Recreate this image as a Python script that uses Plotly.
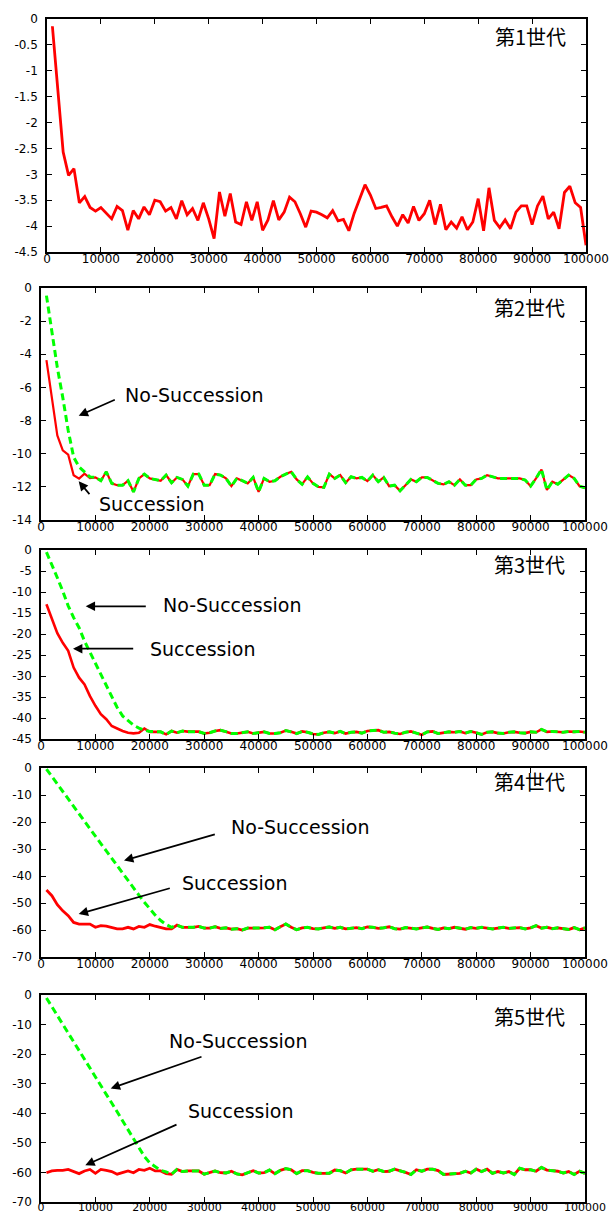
import plotly.graph_objects as go

# ---------------- data ----------------
x_values = list(range(1000, 100001, 1000))

gen1_succession = [
    -0.14, -1.35, -2.57, -3.02, -2.89, -3.55, -3.43, -3.64, -3.71, -3.64,
    -3.76, -3.86, -3.62, -3.70, -4.08, -3.70, -3.86, -3.63, -3.78, -3.50,
    -3.53, -3.71, -3.64, -3.86, -3.51, -3.78, -3.66, -3.89, -3.55, -3.86,
    -4.24, -3.34, -3.81, -3.37, -3.92, -3.97, -3.53, -3.89, -3.53, -4.08,
    -3.88, -3.51, -3.88, -3.73, -3.44, -3.53, -3.76, -4.02, -3.71, -3.73,
    -3.78, -3.84, -3.70, -3.90, -3.87, -4.09, -3.75, -3.48, -3.20, -3.40,
    -3.66, -3.64, -3.61, -3.82, -4.00, -3.78, -3.94, -3.62, -3.89, -3.76,
    -3.50, -3.97, -3.58, -4.07, -3.92, -4.04, -3.82, -4.07, -3.92, -3.47,
    -4.09, -3.26, -3.89, -4.03, -3.88, -4.05, -3.73, -3.61, -3.61, -3.97,
    -3.61, -3.42, -3.86, -3.73, -4.05, -3.35, -3.23, -3.55, -3.64, -4.37,
]

gen2_succession = [
    -4.35, -6.70, -8.90, -9.80, -10.06, -11.30, -11.50, -11.20, -11.47, -11.43,
    -11.63, -11.09, -11.79, -11.90, -11.90, -11.63, -12.30, -11.49, -11.23, -11.49,
    -11.55, -11.63, -11.29, -11.75, -11.43, -11.55, -11.96, -11.23, -11.23, -11.90,
    -11.90, -11.23, -11.29, -11.49, -11.96, -11.49, -11.63, -11.79, -11.43, -12.30,
    -11.49, -11.69, -11.63, -11.39, -11.23, -11.09, -11.55, -11.84, -11.40, -11.79,
    -12.00, -12.03, -11.23, -11.49, -11.29, -11.75, -11.39, -11.49, -11.43, -11.65,
    -11.29, -11.69, -11.43, -11.96, -11.90, -12.24, -11.90, -11.55, -11.69, -11.43,
    -11.43, -11.59, -11.79, -11.85, -11.69, -11.90, -11.55, -11.90, -11.90, -11.55,
    -11.49, -11.29, -11.39, -11.49, -11.49, -11.49, -11.49, -11.49, -11.59, -11.96,
    -11.49, -10.95, -12.19, -11.69, -11.84, -11.55, -11.29, -11.49, -11.96, -12.06,
]
gen2_no_succession_start = [-0.46, -2.6, -4.8, -6.6, -8.6, -10.2, -10.8, -11.1, -11.4]

gen3_succession = [
    -12.9, -16.5, -19.8, -22.1, -24.0, -28.0, -30.4, -32.0, -34.8, -37.1,
    -39.1, -40.3, -41.9, -42.5, -43.1, -43.5, -43.65, -43.5, -42.5, -43.3,
    -43.25, -43.3, -43.9, -43.1, -43.5, -43.1, -43.25, -43.3, -43.25, -43.7,
    -43.5, -43.1, -42.9, -43.25, -43.7, -43.7, -43.5, -43.3, -43.7, -43.5,
    -43.3, -43.7, -43.7, -43.5, -43.0, -43.3, -43.7, -43.2, -43.4, -43.8,
    -43.9, -43.5, -43.3, -43.6, -43.2, -43.7, -43.4, -43.3, -43.6, -43.1,
    -43.0, -42.9, -43.4, -43.3, -43.6, -43.8, -43.4, -43.2, -43.6, -44.0,
    -43.3, -43.2, -43.7, -43.5, -43.3, -43.4, -43.2, -43.6, -43.2, -43.5,
    -43.9, -43.4, -43.3, -43.6, -43.7, -43.4, -43.3, -43.5, -43.6, -43.3,
    -43.4, -42.7, -43.3, -43.2, -43.3, -43.4, -43.2, -43.3, -43.2, -43.4,
]
gen3_no_succession_start = [
    -0.5, -3.4, -6.6, -9.8, -13.3, -16.1, -18.5, -21.7, -24.4, -26.8,
    -29.6, -32.4, -35.2, -37.5, -39.5, -40.7, -41.7, -42.4, -42.9, -43.2,
]

gen4_succession = [
    -45.2, -47.3, -50.6, -52.9, -54.7, -57.2, -57.8, -57.8, -57.8, -59.0,
    -58.4, -58.6, -59.0, -59.6, -59.6, -59.0, -59.6, -58.7, -59.0, -58.0,
    -58.6, -59.0, -59.6, -59.6, -58.2, -59.0, -59.0, -59.0, -58.7, -59.3,
    -59.3, -58.8, -59.4, -59.2, -59.7, -59.5, -60.0, -59.3, -59.3, -59.3,
    -59.2, -59.0, -59.9, -58.8, -57.8, -59.0, -59.9, -59.2, -59.0, -59.5,
    -59.6, -59.2, -58.9, -59.4, -59.0, -59.6, -59.3, -59.1, -59.5, -58.9,
    -59.0, -59.4, -59.2, -58.8, -59.5, -59.7, -59.1, -59.3, -59.6, -59.2,
    -58.9, -59.4, -59.8, -59.2, -59.5, -59.0, -59.3, -59.7, -59.1, -59.4,
    -59.0, -59.2, -59.6, -59.3, -59.0, -59.4, -59.3, -59.1, -59.6, -59.2,
    -58.4, -59.3, -59.0, -59.5, -59.2, -59.4, -59.8, -59.1, -59.9, -59.2,
]
gen4_no_succession_start = [
    -0.4, -3.2, -6.0, -8.7, -11.5, -14.2, -17.0, -19.7, -22.5, -25.2,
    -28.0, -30.7, -33.5, -36.2, -39.0, -41.7, -44.4, -47.1, -49.7, -52.2,
    -54.5, -56.5, -58.0, -59.0,
]

gen5_succession = [
    -60.1, -59.5, -59.3, -59.3, -59.0, -59.7, -60.4, -59.5, -59.0, -60.3,
    -59.0, -59.3, -59.7, -60.6, -60.1, -59.5, -60.1, -59.0, -59.3, -58.6,
    -59.5, -59.5, -60.4, -60.6, -59.0, -59.7, -59.5, -59.5, -59.5, -60.6,
    -60.1, -59.5, -60.1, -60.2, -59.6, -60.5, -60.8, -60.0, -59.4, -60.2,
    -60.1, -59.2, -60.4, -59.3, -58.7, -59.1, -60.4, -59.4, -59.4, -60.0,
    -60.3, -60.3, -60.3, -59.2, -59.4, -60.2, -59.1, -58.9, -58.9, -58.9,
    -59.6, -59.1, -59.7, -59.6, -58.9, -59.4, -60.0, -60.7, -59.1, -59.6,
    -58.9, -58.9, -59.4, -60.7, -60.5, -60.3, -60.3, -59.6, -60.2, -58.9,
    -59.7, -58.9, -60.3, -59.7, -60.2, -59.7, -60.7, -58.6, -59.1, -59.1,
    -59.6, -58.3, -59.2, -59.4, -59.6, -60.2, -59.7, -60.7, -59.6, -60.3,
]
gen5_no_succession_start = [
    -1.0, -4.0, -6.9, -9.8, -12.8, -15.7, -18.7, -21.7, -24.6, -27.6,
    -30.6, -33.6, -36.5, -39.5, -42.5, -45.4, -48.4, -51.8, -54.6, -56.8,
    -58.2, -59.3, -59.8,
]

panel_titles = ["第1世代", "第2世代", "第3世代", "第4世代", "第5世代"]
label_no = "No-Succession"
label_yes = "Succession"

x_tickvals = [0, 10000, 20000, 30000, 40000, 50000, 60000, 70000, 80000, 90000, 100000]
x_ticktext = ["0", "10000", "20000", "30000", "40000", "50000", "60000",
              "70000", "80000", "90000", "100000"]

y1_tickvals = [0, -0.5, -1, -1.5, -2, -2.5, -3, -3.5, -4, -4.5]
y1_ticktext = ["0", "-0.5", "-1", "-1.5", "-2", "-2.5", "-3", "-3.5", "-4", "-4.5"]
y2_tickvals = [0, -2, -4, -6, -8, -10, -12, -14]
y2_ticktext = ["0", "-2", "-4", "-6", "-8", "-10", "-12", "-14"]
y3_tickvals = [0, -5, -10, -15, -20, -25, -30, -35, -40, -45]
y3_ticktext = ["0", "-5", "-10", "-15", "-20", "-25", "-30", "-35", "-40", "-45"]
y45_tickvals = [0, -10, -20, -30, -40, -50, -60, -70]
y45_ticktext = ["0", "-10", "-20", "-30", "-40", "-50", "-60", "-70"]

# ---------------- figure ----------------
W, H = 610, 1216
RED = "#ff0000"
GREEN = "#00ff00"

# panel pixel boxes: (left, right, top, bottom)
boxes = [
    (47, 586, 19, 252),
    (41, 585, 288, 520),
    (41, 585, 550, 739),
    (41, 585, 768, 957),
    (41, 585, 995, 1202),
]
x_label_standoff = [-5, -5, -5, -5, -6]
x_label_size = [12, 12, 12, 12, 11]
y_ranges = [(-4.5, 0), (-14, 0), (-45, 0), (-70, 0), (-70, 0)]
y_ticks = [
    (y1_tickvals, y1_ticktext),
    (y2_tickvals, y2_ticktext),
    (y3_tickvals, y3_ticktext),
    (y45_tickvals, y45_ticktext),
    (y45_tickvals, y45_ticktext),
]

succ_series = [gen1_succession, gen2_succession, gen3_succession,
               gen4_succession, gen5_succession]
nosucc_starts = [None, gen2_no_succession_start, gen3_no_succession_start,
                 gen4_no_succession_start, gen5_no_succession_start]
red_widths = [2.8, 2.2, 2.6, 2.8, 2.8]

fig = go.Figure()
layout = dict(
    template="none",
    width=W, height=H, autosize=False,
    margin=dict(l=0, r=0, t=0, b=0, pad=0),
    paper_bgcolor="white", plot_bgcolor="white",
    showlegend=False,
    font=dict(family="DejaVu Sans", size=12, color="black"),
)

for i in range(5):
    n = i + 1
    xa = "x" if n == 1 else f"x{n}"
    ya = "y" if n == 1 else f"y{n}"
    l, r, t, b = boxes[i]
    common = dict(
        showline=True, linecolor="black", linewidth=1.6, mirror="allticks",
        ticks="inside", ticklen=5, tickwidth=1.2, tickcolor="black",
        showgrid=False, zeroline=False, automargin=False,
    )
    layout["xaxis" if n == 1 else f"xaxis{n}"] = dict(
        domain=[l / W, r / W], anchor=ya, range=[0, 100000],
        tickmode="array", tickvals=x_tickvals, ticktext=x_ticktext,
        ticklabelstandoff=x_label_standoff[i],
        tickfont=dict(family="DejaVu Sans", size=x_label_size[i], color="black"),
        **common,
    )
    tv, tt = y_ticks[i]
    layout["yaxis" if n == 1 else f"yaxis{n}"] = dict(
        domain=[1 - b / H, 1 - t / H], anchor=xa, range=list(y_ranges[i]),
        tickmode="array", tickvals=tv, ticktext=tt,
        ticklabelstandoff=5,
        tickfont=dict(family="DejaVu Sans", size=12, color="black"),
        **common,
    )

    fig.add_trace(go.Scatter(
        x=x_values, y=succ_series[i], xaxis=xa, yaxis=ya, mode="lines",
        line=dict(color=RED, width=red_widths[i]), hoverinfo="skip",
    ))
    if nosucc_starts[i] is not None:
        start = nosucc_starts[i]
        green = start + succ_series[i][len(start):]
        fig.add_trace(go.Scatter(
            x=x_values, y=green, xaxis=xa, yaxis=ya, mode="lines",
            line=dict(color=GREEN, width=3, dash="7px,4px"), hoverinfo="skip",
        ))

fig.update_layout(**layout)

annotations = []
title_y = [0.923, 0.918, 0.921, 0.926, 0.896]
for i in range(5):
    n = i + 1
    xd = "x domain" if n == 1 else f"x{n} domain"
    yd = "y domain" if n == 1 else f"y{n} domain"
    annotations.append(dict(
        text=panel_titles[i], xref=xd, yref=yd, x=0.967, y=title_y[i],
        xanchor="right", yanchor="middle", showarrow=False,
        font=dict(family="Noto Sans CJK JP", size=20, color="black"),
    ))

label_font = dict(family="DejaVu Sans", size=19, color="black")
# (panel, text, text_x, text_y, head_x, head_y, tail_x, tail_y)
arrow_specs = [
    (2, label_no, 15074, -6.46, 6930, -7.71, 13842, -6.70),
    (2, label_yes, 10294, -13.03, 6930, -11.66, 9136, -12.53),
    (3, label_no, 22000, -13.1, 8217, -13.4, 19540, -13.4),
    (3, label_yes, 19669, -23.6, 5882, -23.5, 17224, -23.5),
    (4, label_no, 34559, -21.9, 15257, -34.3, 32224, -24.4),
    (4, label_yes, 25496, -42.7, 6930, -54.1, 23952, -44.4),
    (5, label_no, 23217, -15.5, 12813, -31.6, 29779, -20.7),
    (5, label_yes, 26599, -39.2, 8143, -57.6, 25184, -43.6),
]
for (n, txt, tx, ty, hx, hy, sx, sy) in arrow_specs:
    xa = f"x{n}"
    ya = f"y{n}"
    annotations.append(dict(
        text=txt, xref=xa, yref=ya, x=tx, y=ty, xanchor="left",
        yanchor="middle", showarrow=False, font=label_font,
    ))
    annotations.append(dict(
        text="", xref=xa, yref=ya, x=hx, y=hy, axref=xa, ayref=ya,
        ax=sx, ay=sy, showarrow=True, arrowhead=2, arrowsize=1.1,
        arrowwidth=1.7, arrowcolor="black",
    ))

fig.update_layout(annotations=annotations)

page_fit = (
    "document.documentElement.style.margin='0';"
    "document.documentElement.style.padding='0';"
    "document.documentElement.style.overflow='hidden';"
    "document.body.style.margin='0';"
    "document.body.style.padding='0';"
    "document.body.style.overflow='hidden';"
)
fig.write_html("out.html",
               config={"responsive": False, "displayModeBar": False},
               post_script=page_fit)
